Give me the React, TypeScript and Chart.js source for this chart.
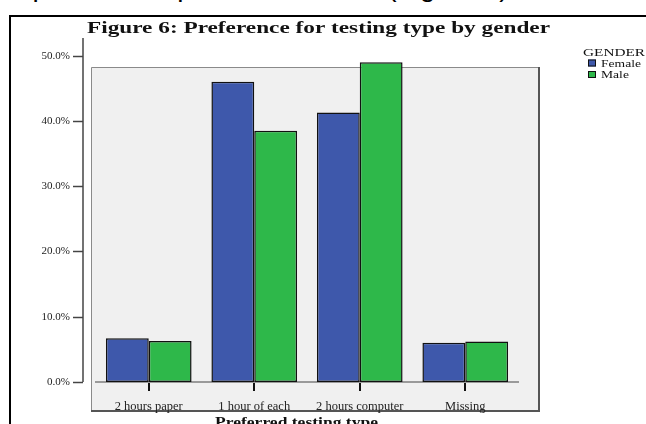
import React, { useEffect, useRef } from "react";
import { Chart, registerables } from "chart.js";

Chart.register(...registerables);

const categories = ["2 hours paper", "1 hour of each", "2 hours computer", "Missing"];
const seriesNames = ["Female", "Male"];
const femaleValues = [6.7, 46.0, 41.3, 6.0];
const maleValues = [6.3, 38.5, 49.0, 6.2];
const yTicks = [0, 10, 20, 30, 40, 50];
const yMax = 52.7;
const seriesColors = ["#3e58ab", "#2eb84a"];
const chartTitle = "Figure 6: Preference for testing type by gender";
const legendTitle = "GENDER";
const xAxisTitle = "Preferred testing type";
const documentLine = "Neither sex preferred a particular format (Figure 6)";

const SERIF = '"Liberation Serif", "Times New Roman", serif';

function drawFitted(
  ctx: CanvasRenderingContext2D,
  text: string,
  x: number,
  y: number,
  font: string,
  width: number,
  color = "#111"
) {
  ctx.save();
  ctx.font = font;
  const w = ctx.measureText(text).width;
  const sx = width / w;
  ctx.textAlign = "left";
  ctx.textBaseline = "alphabetic";
  ctx.fillStyle = color;
  ctx.translate(x, y);
  ctx.scale(sx, 1);
  ctx.fillText(text, 0, 0);
  ctx.restore();
  return sx;
}

function drawScaled(
  ctx: CanvasRenderingContext2D,
  text: string,
  x: number,
  y: number,
  font: string,
  sx: number,
  color = "#111"
) {
  ctx.save();
  ctx.font = font;
  ctx.textAlign = "left";
  ctx.textBaseline = "alphabetic";
  ctx.fillStyle = color;
  ctx.translate(x, y);
  ctx.scale(sx, 1);
  ctx.fillText(text, 0, 0);
  ctx.restore();
}

const framePlugin = {
  id: "spssFrame",
  beforeDraw(chart: any) {
    const ctx: CanvasRenderingContext2D = chart.ctx;
    const ca = chart.chartArea;
    ctx.save();
    // outer document frame
    ctx.strokeStyle = "#000";
    ctx.lineWidth = 2;
    ctx.beginPath();
    ctx.moveTo(10, 424);
    ctx.lineTo(10, 16);
    ctx.lineTo(646, 16);
    ctx.stroke();
    // gray plot frame
    const l = ca.left - 5;
    const r = ca.right + 21;
    const t = ca.top + 29;
    const b = ca.bottom + 29;
    ctx.fillStyle = "#f0f0f0";
    ctx.fillRect(l, t, r - l, b - t);
    ctx.strokeStyle = "#8a8a8a";
    ctx.lineWidth = 1;
    ctx.beginPath();
    ctx.moveTo(l + 0.5, b);
    ctx.lineTo(l + 0.5, t + 0.5);
    ctx.lineTo(r, t + 0.5);
    ctx.stroke();
    ctx.strokeStyle = "#555";
    ctx.lineWidth = 2;
    ctx.beginPath();
    ctx.moveTo(r, t);
    ctx.lineTo(r, b);
    ctx.lineTo(l, b);
    ctx.stroke();
    ctx.restore();
  },
  afterDraw(chart: any) {
    const ctx: CanvasRenderingContext2D = chart.ctx;
    const ca = chart.chartArea;
    const y = chart.scales.y;
    ctx.save();
    // detached y axis line with ticks
    const ax = ca.left - 13;
    ctx.strokeStyle = "#444";
    ctx.lineWidth = 1.5;
    ctx.beginPath();
    ctx.moveTo(ax, y.getPixelForValue(y.max));
    ctx.lineTo(ax, y.getPixelForValue(0));
    ctx.stroke();
    yTicks.forEach((v) => {
      const py = Math.round(y.getPixelForValue(v)) + 0.5;
      ctx.beginPath();
      ctx.moveTo(ax - 10, py);
      ctx.lineTo(ax, py);
      ctx.stroke();
    });
    ctx.restore();

    // title
    drawFitted(ctx, chartTitle, 87, 33, "bold 16px " + SERIF, 463);

    // legend
    drawFitted(ctx, legendTitle, 583, 56, "11px " + SERIF, 62);
    const itemFont = "10.5px " + SERIF;
    ctx.save();
    ctx.font = itemFont;
    const sx = 40 / ctx.measureText(seriesNames[0]).width;
    ctx.restore();
    const rows = [59.5, 71];
    chart.data.datasets.forEach((ds: any, i: number) => {
      const ty = rows[i];
      ctx.save();
      ctx.fillStyle = ds.backgroundColor;
      ctx.fillRect(588, ty, 8, 7);
      ctx.strokeStyle = "#111";
      ctx.lineWidth = 1;
      ctx.strokeRect(588.5, ty + 0.5, 7, 6);
      ctx.restore();
      drawScaled(ctx, ds.label, 601, ty + 7, itemFont, sx);
    });

    // x axis title
    drawFitted(ctx, xAxisTitle, 215, 427, "bold 14px " + SERIF, 163);
  },
};

export default function App() {
  const canvasRef = useRef<HTMLCanvasElement>(null);

  useEffect(() => {
    const canvas = canvasRef.current;
    if (!canvas) return;
    const chart = new Chart(canvas, {
      type: "bar",
      data: {
        labels: categories,
        datasets: [
          {
            label: seriesNames[0],
            data: femaleValues,
            backgroundColor: seriesColors[0],
            borderColor: "#111",
            borderWidth: 1.5,
            borderSkipped: false,
            categoryPercentage: 0.812,
            barPercentage: 1,
          },
          {
            label: seriesNames[1],
            data: maleValues,
            backgroundColor: seriesColors[1],
            borderColor: "#111",
            borderWidth: 1.5,
            borderSkipped: false,
            categoryPercentage: 0.812,
            barPercentage: 1,
          },
        ],
      },
      options: {
        responsive: false,
        maintainAspectRatio: false,
        animation: false,
        devicePixelRatio: 1,
        layout: { padding: { top: 38, right: 128, bottom: 0, left: 0 } },
        plugins: {
          legend: { display: false },
          title: { display: false },
          tooltip: { enabled: false },
        },
        scales: {
          x: {
            type: "category",
            offset: true,
            afterFit: (s: any) => {
              s.height = 42;
            },
            grid: {
              display: true,
              drawOnChartArea: false,
              drawTicks: true,
              tickLength: 9,
              offset: false,
              color: "#111",
              lineWidth: 2,
            },
            border: { display: true, color: "#9a9a9a", width: 2 },
            ticks: {
              color: "#222",
              padding: 8,
              font: { family: SERIF, size: 12.5 },
              maxRotation: 0,
              autoSkip: false,
            },
          },
          y: {
            type: "linear",
            min: 0,
            max: yMax,
            afterFit: (s: any) => {
              s.width = 96;
            },
            afterBuildTicks: (s: any) => {
              s.ticks = yTicks.map((v) => ({ value: v }));
            },
            grid: { display: false, drawTicks: false },
            border: { display: false },
            ticks: {
              color: "#222",
              padding: 26,
              font: { family: SERIF, size: 11 },
              callback: (v: any) => Number(v).toFixed(1) + "%",
            },
          },
        },
      },
      plugins: [framePlugin],
    });
    return () => chart.destroy();
  }, []);

  return (
    <div
      style={{
        position: "fixed",
        left: 0,
        top: 0,
        width: 646,
        height: 424,
        overflow: "hidden",
        background: "#fff",
      }}
    >
      <div
        style={{
          position: "absolute",
          left: -117,
          top: -27,
          fontFamily: '"Liberation Sans", Arial, sans-serif',
          fontSize: 28,
          lineHeight: "28px",
          whiteSpace: "nowrap",
          color: "#000",
        }}
      >
        {documentLine}
      </div>
      <canvas
        ref={canvasRef}
        width={646}
        height={424}
        style={{ position: "absolute", left: 0, top: 0 }}
      />
    </div>
  );
}
